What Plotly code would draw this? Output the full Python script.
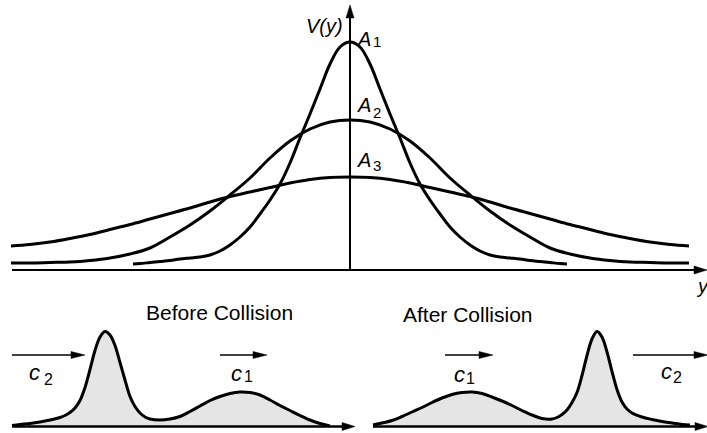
import plotly.graph_objects as go

# ---------------------------------------------------------------
# Soliton profiles V(y) of decreasing amplitude (half profiles,
# mirrored about y = 0).  Units: 1 horizontal unit, 1 vertical unit.
# ---------------------------------------------------------------
A1_offset = [0, 0.1, 0.2, 0.3, 0.4, 0.5, 0.6, 0.7, 0.8, 0.9, 1.0, 1.1, 1.2, 1.3, 1.4, 1.5,
             1.6, 1.7, 1.8, 1.9, 2.0, 2.1, 2.17]
A1_height = [2.28, 2.23, 2.06, 1.81, 1.56, 1.32, 1.07, 0.86, 0.70, 0.56, 0.43, 0.33, 0.25, 0.19,
             0.15, 0.13, 0.12, 0.11, 0.095, 0.085, 0.075, 0.065, 0.06]

A2_offset = [0, 0.2, 0.4, 0.6, 0.8, 1.0, 1.2, 1.4, 1.6, 1.8, 2.0, 2.2, 2.4, 2.6, 2.8, 3.0, 3.2, 3.39]
A2_height = [1.50, 1.48, 1.41, 1.29, 1.12, 0.92, 0.75, 0.59, 0.45, 0.33, 0.22, 0.16, 0.12, 0.095,
             0.08, 0.075, 0.07, 0.07]

A3_offset = [0, 0.2, 0.4, 0.6, 0.8, 1.0, 1.2, 1.4, 1.6, 1.8, 2.0, 2.2, 2.4, 2.6, 2.8, 3.0, 3.2, 3.39]
A3_height = [0.93, 0.925, 0.905, 0.87, 0.825, 0.78, 0.735, 0.68, 0.62, 0.565, 0.51, 0.455, 0.405,
             0.355, 0.315, 0.28, 0.255, 0.24]

# Two-soliton wave train before the collision (tall fast wave behind)
before_x = [0.12, 0.2, 0.3, 0.4, 0.5, 0.6, 0.65, 0.70, 0.75, 0.80, 0.85, 0.90, 0.95, 1.00, 1.05,
            1.10, 1.15, 1.20, 1.25, 1.30, 1.35, 1.40, 1.45, 1.5, 1.6, 1.7, 1.8, 1.9, 2.0, 2.1,
            2.2, 2.3, 2.4, 2.5, 2.6, 2.7, 2.8, 2.9, 3.0, 3.1, 3.2, 3.3]
before_v = [0.01, 0.02, 0.03, 0.045, 0.065, 0.09, 0.11, 0.14, 0.185, 0.26, 0.39, 0.57, 0.76, 0.895,
            0.95, 0.915, 0.81, 0.64, 0.465, 0.30, 0.20, 0.135, 0.095, 0.075, 0.065, 0.075, 0.10,
            0.15, 0.205, 0.26, 0.30, 0.33, 0.345, 0.34, 0.315, 0.265, 0.21, 0.16, 0.11, 0.065,
            0.03, 0.005]

# ... and after the collision (tall fast wave has overtaken)
after_x = [0.11, 0.2, 0.3, 0.4, 0.5, 0.6, 0.7, 0.8, 0.9, 1.0, 1.1, 1.2, 1.3, 1.4, 1.5, 1.6, 1.7,
           1.8, 1.9, 1.95, 2.00, 2.05, 2.10, 2.15, 2.20, 2.25, 2.30, 2.35, 2.40, 2.45, 2.50, 2.55,
           2.60, 2.65, 2.70, 2.8, 2.9, 3.0, 3.1, 3.2, 3.28]
after_v = [0.015, 0.035, 0.06, 0.10, 0.145, 0.19, 0.24, 0.285, 0.32, 0.34, 0.345, 0.33, 0.295,
           0.255, 0.21, 0.16, 0.115, 0.08, 0.075, 0.09, 0.12, 0.165, 0.24, 0.34, 0.51, 0.71, 0.875,
           0.95, 0.895, 0.745, 0.55, 0.37, 0.245, 0.175, 0.135, 0.095, 0.07, 0.05, 0.035, 0.02,
           0.015]

amp_labels = ["1", "2", "3"]

W, H = 707, 433
FONT = "Liberation Sans, Arial, Helvetica, sans-serif"
INK = "black"
FILL = "#e5e5e5"


def mirror(offsets, heights):
    xs = [-o for o in reversed(offsets)] + list(offsets[1:])
    ys = list(reversed(heights)) + list(heights[1:])
    return xs, ys


fig = go.Figure()

for off, hgt in [(A1_offset, A1_height), (A2_offset, A2_height), (A3_offset, A3_height)]:
    xs, ys = mirror(off, hgt)
    fig.add_trace(go.Scatter(x=xs, y=ys, mode="lines", xaxis="x", yaxis="y",
                             line=dict(color=INK, width=3, shape="spline", smoothing=1.0),
                             hoverinfo="skip", showlegend=False))

fig.add_trace(go.Scatter(x=before_x, y=before_v, mode="lines", xaxis="x2", yaxis="y2",
                         fill="tozeroy", fillcolor=FILL,
                         line=dict(color=INK, width=3, shape="spline", smoothing=1.0),
                         hoverinfo="skip", showlegend=False))
fig.add_trace(go.Scatter(x=after_x, y=after_v, mode="lines", xaxis="x3", yaxis="y3",
                         fill="tozeroy", fillcolor=FILL,
                         line=dict(color=INK, width=3, shape="spline", smoothing=1.0),
                         hoverinfo="skip", showlegend=False))

# ---------------------------------------------------------------
# Axes: invisible plotly axes, arrows drawn as shapes
# ---------------------------------------------------------------
def hidden(**kw):
    d = dict(visible=False, showgrid=False, zeroline=False, fixedrange=True)
    d.update(kw)
    return d

split = 290 / H
mid = 362 / W
fig.update_layout(
    xaxis=hidden(domain=[0, 1], range=[-3.50, 3.57]),
    yaxis=hidden(domain=[1 - split, 1], range=[-0.20, 2.70]),
    xaxis2=hidden(domain=[0, mid], range=[0, 3.62], anchor="y2"),
    yaxis2=hidden(domain=[0, 1 - split], range=[-0.065, 1.365], anchor="x2"),
    xaxis3=hidden(domain=[mid, 1], range=[0, 3.45], anchor="y3"),
    yaxis3=hidden(domain=[0, 1 - split], range=[-0.065, 1.365], anchor="x3"),
)

shapes = []


def harrow(x0, x1, y, xref, yref, width=2, head=0.13, half=0.04):
    shapes.append(dict(type="line", x0=x0, x1=x1 - head * 0.6, y0=y, y1=y, xref=xref, yref=yref,
                       line=dict(color=INK, width=width)))
    shapes.append(dict(type="path", xref=xref, yref=yref,
                       path=f"M {x1 - head} {y - half} L {x1} {y} L {x1 - head} {y + half} Z",
                       fillcolor=INK, line=dict(color=INK, width=0.5)))


def varrow(x, y0, y1, xref, yref, width=2, head=0.13, half=0.04):
    shapes.append(dict(type="line", x0=x, x1=x, y0=y0, y1=y1 - head * 0.6, xref=xref, yref=yref,
                       line=dict(color=INK, width=width)))
    shapes.append(dict(type="path", xref=xref, yref=yref,
                       path=f"M {x - half} {y1 - head} L {x} {y1} L {x + half} {y1 - head} Z",
                       fillcolor=INK, line=dict(color=INK, width=0.5)))


# main V(y) frame
harrow(-3.38, 3.57, 0, "x", "y", width=1.8)
varrow(0, 0, 2.65, "x", "y", width=2)

# collision panels
harrow(0.12, 3.55, 0, "x2", "y2", width=2.5)
harrow(0.11, 3.46, 0, "x3", "y3", width=2.5)

# propagation speed arrows
harrow(0.12, 0.85, 0.715, "x2", "y2", width=1.6, head=0.14, half=0.035)
harrow(2.20, 2.67, 0.715, "x2", "y2", width=1.6, head=0.14, half=0.035)
harrow(0.83, 1.31, 0.715, "x3", "y3", width=1.6, head=0.14, half=0.035)
harrow(2.71, 3.46, 0.715, "x3", "y3", width=1.6, head=0.14, half=0.035)

fig.update_layout(shapes=shapes)

# ---------------------------------------------------------------
# Labels (positions in page pixels)
# ---------------------------------------------------------------
annotations = []


def label(text, px, py, size, italic=False, xanchor="center"):
    if italic:
        text = f"<i>{text}</i>"
    annotations.append(dict(text=text, x=px / W, y=1 - py / H, xref="paper", yref="paper",
                            xanchor=xanchor, yanchor="middle", showarrow=False,
                            font=dict(family=FONT, size=size, color=INK)))


label("V(y)", 324.5, 25.5, 20, italic=True)

amp_pos = [(38.5, 41), (105.5, 112), (160, 165)]
for sub, (ya, ys) in zip(amp_labels, amp_pos):
    label("A", 355, ya, 20, italic=True, xanchor="left")
    label(sub, 371, ys, 15, xanchor="left")

label("y", 702, 286, 20, italic=True)

label("Before Collision", 220, 312.5, 21)
label("After Collision", 468, 314, 21)

speed_labels = [("2", 34.5, 372.5, 48, 379), ("1", 236.5, 373, 248, 376.5),
                ("1", 459, 374.5, 470.5, 378.5), ("2", 666.5, 371.5, 677, 377.5)]
for sub, cx, cy, sx, sy in speed_labels:
    label("c", cx, cy, 22, italic=True)
    label(sub, sx, sy, 16)

fig.update_layout(
    annotations=annotations,
    width=W, height=H,
    margin=dict(l=0, r=0, t=0, b=0),
    paper_bgcolor="white", plot_bgcolor="white",
    showlegend=False,
)

fig.write_html("out.html", config={"displayModeBar": False})
